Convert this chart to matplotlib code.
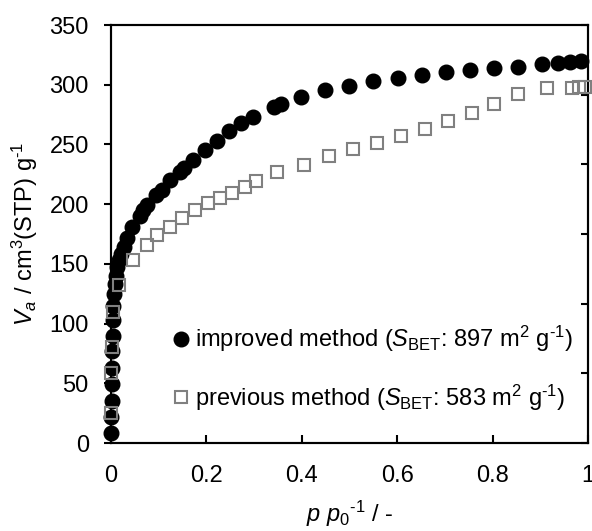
import matplotlib
matplotlib.use("Agg")
import matplotlib.pyplot as plt

FONT = 'Liberation Sans'
plt.rcParams['font.family'] = [FONT, 'DejaVu Sans']
plt.rcParams['mathtext.fontset'] = 'custom'
plt.rcParams['mathtext.rm'] = FONT
plt.rcParams['mathtext.it'] = FONT + ':italic'
plt.rcParams['mathtext.bf'] = FONT + ':bold'

# improved method (filled circles)
imp_x = [0.0005, 0.001, 0.0015, 0.002, 0.0025, 0.003, 0.0035, 0.004, 0.005, 0.006,
         0.008, 0.010, 0.013, 0.017, 0.022, 0.027, 0.033, 0.044, 0.060, 0.067,
         0.076, 0.094, 0.107, 0.124, 0.145, 0.153, 0.172, 0.197, 0.222, 0.248,
         0.273, 0.298, 0.342, 0.356, 0.398, 0.449, 0.499, 0.549, 0.602, 0.652,
         0.702, 0.753, 0.803, 0.853, 0.904, 0.937, 0.962, 0.985]
imp_y = [8, 22, 35, 49, 63, 77, 90, 103, 115, 125,
         133, 140, 147, 153, 158, 164, 172, 181, 190, 195,
         199, 208, 212, 220, 227, 230, 237, 245, 253, 261,
         268, 273, 281, 284, 290, 296, 299, 303, 306, 308,
         311, 312, 314, 315, 317, 318, 319, 320]

# previous method (open squares)
prev_x = [0.0005, 0.001, 0.002, 0.004, 0.017, 0.046, 0.075, 0.096, 0.124, 0.149,
          0.176, 0.204, 0.229, 0.254, 0.281, 0.304, 0.348, 0.405, 0.457, 0.508,
          0.558, 0.608, 0.658, 0.707, 0.757, 0.803, 0.853, 0.914, 0.966, 0.981, 0.994]
prev_y = [25, 59, 80, 110, 132, 153, 166, 174, 181, 188,
          195, 201, 205, 209, 214, 219, 227, 233, 240, 246,
          251, 257, 263, 270, 276, 284, 292, 297, 297, 298, 298]

imp_label = r"improved method ($S_{\mathrm{BET}}$: 897 m$^{2}$ g$^{\text{-1}}$)"
prev_label = r"previous method ($S_{\mathrm{BET}}$: 583 m$^{2}$ g$^{\text{-1}}$)"

x_ticks = [0, 0.2, 0.4, 0.6, 0.8, 1]
x_ticklabels = ['0', '0.2', '0.4', '0.6', '0.8', '1']
y_ticks = [0, 50, 100, 150, 200, 250, 300, 350]

FS = 17

fig = plt.figure(figsize=(5.92, 5.31), dpi=100)
ax = fig.add_axes([0.1875, 0.1657, 0.9932 - 0.1875, 0.9529 - 0.1657])

ax.plot(imp_x, imp_y, linestyle='none', marker='o', markersize=10.5,
        color='black', label=imp_label, clip_on=False, zorder=3)
ax.plot(prev_x, prev_y, linestyle='none', marker='s', markersize=9,
        markerfacecolor='none', markeredgecolor='#808080', markeredgewidth=1.5,
        label=prev_label, clip_on=False, zorder=4)

ax.set_xlim(0, 1)
ax.set_ylim(0, 350)
ax.set_xticks(x_ticks)
ax.set_xticklabels(x_ticklabels)
ax.set_yticks(y_ticks)

for s in ax.spines.values():
    s.set_linewidth(1.5)

ax.tick_params(axis='x', direction='in', length=6, width=1.5, pad=16, labelsize=FS, top=False)
ax.tick_params(axis='y', direction='out', length=5, width=1.5, pad=11, labelsize=FS, right=False)

ax2 = ax.twinx()
ax2.set_ylim(0, 6)
ax2.set_yticks(range(7))
ax2.tick_params(axis='y', direction='in', length=5, width=1.5, labelright=False)
for s in ax2.spines.values():
    s.set_linewidth(1.5)

ax.set_xlabel(r"$p$ $p_{0}$$^{\text{-1}}$ / -", fontsize=FS, labelpad=8)
ax.set_ylabel(r"$V_{a}$ / cm$^{3}$(STP) g$^{\text{-1}}$", fontsize=FS, labelpad=7)

leg = ax.legend(loc='lower left', bbox_to_anchor=(0.112, 0.05), frameon=False,
                fontsize=FS, handlelength=0.6, handletextpad=0.3,
                labelspacing=1.2, borderaxespad=0)
ax.set_zorder(ax2.get_zorder() + 1)
ax.patch.set_visible(False)

fig.savefig('out.png', dpi=100)
